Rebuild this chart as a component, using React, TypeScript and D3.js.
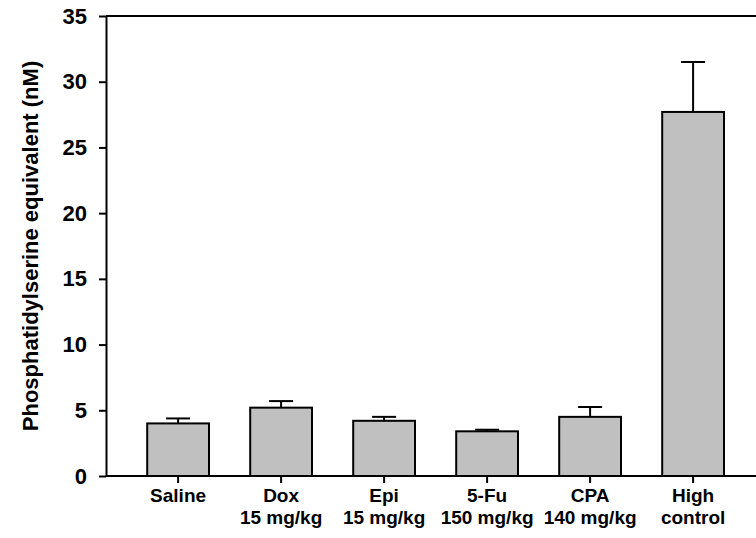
import React, {useEffect, useRef} from 'react'
import * as d3 from 'd3';

const groups = ['Saline', 'Dox', 'Epi', '5-Fu', 'CPA', 'High'];
const subLabels = ['', '15 mg/kg', '15 mg/kg', '150 mg/kg', '140 mg/kg', 'control'];
const means = [4.0, 5.2, 4.2, 3.4, 4.5, 27.7];
const errors = [0.38, 0.5, 0.3, 0.12, 0.75, 3.8];
const yTicks = [0, 5, 10, 15, 20, 25, 30, 35];

const App = () => {
    const chartRef = useRef<SVGSVGElement>(null);
    const W = 756, H = 538;
    const margin = {top: 16, left: 106, bottom: 62};
    const font = 'Arial, "Liberation Sans", sans-serif';

    useEffect(() => {
        const svg = d3.select(chartRef.current);
        svg.selectAll('*').remove();
        const plotBottom = H - margin.bottom;

        // band step ~103px, plot area continues past the right edge of the picture
        const x = d3.scaleBand<string>()
            .domain(groups)
            .range([margin.left, margin.left + 6.4 * 103])
            .padding(0.4);
        const y = d3.scaleLinear().domain([0, 35]).range([plotBottom, margin.top]);

        // bars
        const g = svg.append('g');
        groups.forEach((k, i) => {
            const cx = x(k)! + x.bandwidth() / 2;
            // error bar (upper only)
            g.append('line')
                .attr('x1', cx).attr('x2', cx)
                .attr('y1', y(means[i])).attr('y2', y(means[i] + errors[i]))
                .attr('stroke', '#000').attr('stroke-width', 2);
            g.append('line')
                .attr('x1', cx - 12).attr('x2', cx + 12)
                .attr('y1', y(means[i] + errors[i])).attr('y2', y(means[i] + errors[i]))
                .attr('stroke', '#000').attr('stroke-width', 2);
            g.append('rect')
                .attr('x', x(k)!)
                .attr('y', y(means[i]))
                .attr('width', x.bandwidth())
                .attr('height', plotBottom - y(means[i]))
                .attr('fill', '#c0c0c0')
                .attr('stroke', '#000')
                .attr('stroke-width', 2);
        });

        // frame lines: top and bottom extend to the right edge
        svg.append('line')
            .attr('x1', margin.left).attr('x2', W + 5)
            .attr('y1', margin.top).attr('y2', margin.top)
            .attr('stroke', '#000').attr('stroke-width', 2);
        svg.append('line')
            .attr('x1', margin.left).attr('x2', W + 5)
            .attr('y1', plotBottom).attr('y2', plotBottom)
            .attr('stroke', '#000').attr('stroke-width', 2);

        // y axis
        const yAxis = svg.append('g')
            .attr('transform', `translate(${margin.left},0)`)
            .call(d3.axisLeft(y).tickValues(yTicks).tickSize(7).tickPadding(12).tickSizeOuter(0));
        yAxis.select('.domain').attr('stroke-width', 2);
        yAxis.selectAll('.tick line').attr('stroke-width', 2);
        yAxis.selectAll('.tick text')
            .attr('font-family', font).attr('font-weight', 'bold').attr('font-size', 22)
            .attr('fill', '#000');

        // x axis ticks and labels
        const xAxis = svg.append('g')
            .attr('transform', `translate(0,${plotBottom})`)
            .call(d3.axisBottom(x).tickSize(7).tickSizeOuter(0).tickFormat(() => ''));
        xAxis.select('.domain').remove();
        xAxis.selectAll('.tick line').attr('stroke-width', 2);

        groups.forEach((k, i) => {
            const cx = x(k)! + x.bandwidth() / 2;
            const t = svg.append('text')
                .attr('x', cx)
                .attr('text-anchor', 'middle')
                .attr('font-family', font).attr('font-weight', 'bold').attr('font-size', 19)
                .attr('fill', '#000');
            t.append('tspan').attr('x', cx).attr('y', plotBottom + 26).text(k);
            if (subLabels[i]) t.append('tspan').attr('x', cx).attr('y', plotBottom + 48).text(subLabels[i]);
        });

        // y axis title
        svg.append('text')
            .attr('transform', `translate(38,${(margin.top + plotBottom) / 2}) rotate(-90)`)
            .attr('text-anchor', 'middle')
            .attr('font-family', font).attr('font-weight', 'bold').attr('font-size', 22)
            .attr('fill', '#000')
            .text('Phosphatidylserine equivalent (nM)');
    }, []);

    return (
        <svg ref={chartRef} width={W} height={H}
             style={{position: 'absolute', left: 0, top: 0, background: '#fff'}}/>
    )
}
export default App
